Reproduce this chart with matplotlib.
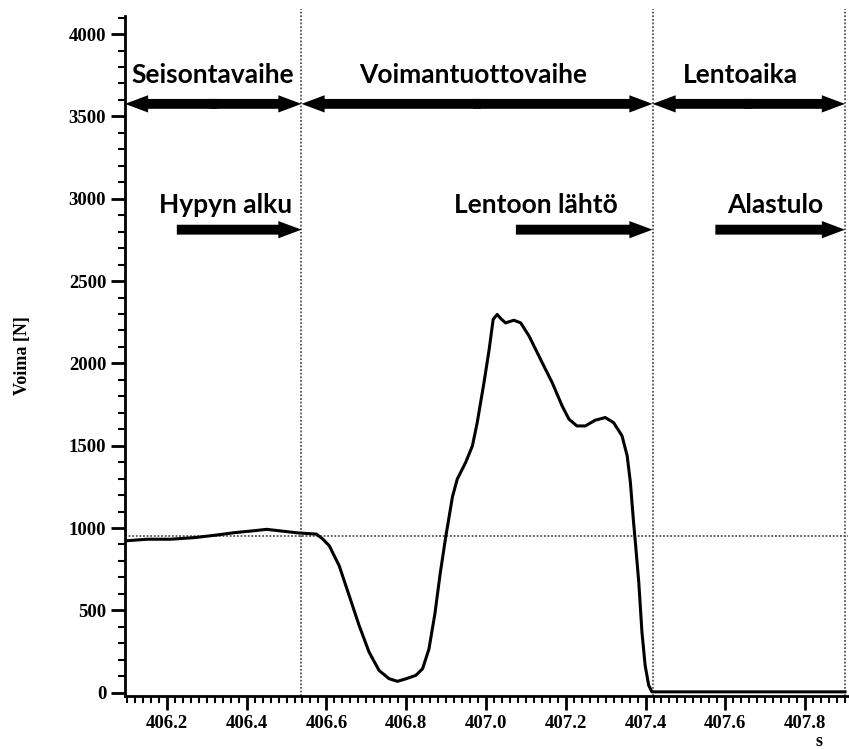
import matplotlib.pyplot as plt
import numpy as np

# force curve (time [s], force [N])
t = [406.095, 406.15, 406.21, 406.27, 406.32, 406.37, 406.42, 406.45, 406.49, 406.53,
     406.575, 406.59, 406.607, 406.632, 406.657, 406.682, 406.707, 406.732, 406.757, 406.778,
     406.799, 406.824, 406.841, 406.857, 406.872, 406.885, 406.899, 406.916, 406.928, 406.949,
     406.966, 406.978, 406.995, 407.008, 407.018, 407.028, 407.038, 407.049, 407.07, 407.087,
     407.108, 407.141, 407.166, 407.191, 407.208, 407.228, 407.249, 407.274, 407.299, 407.32,
     407.341, 407.354, 407.362, 407.37, 407.375, 407.383, 407.391, 407.399, 407.408, 407.416,
     407.45, 407.9]
force = [922, 932, 932, 942, 956, 972, 984, 992, 981, 970,
         963, 935, 893, 771, 590, 408, 246, 135, 85, 69,
         84, 105, 145, 265, 480, 720, 945, 1190, 1297, 1398,
         1499, 1640, 1883, 2085, 2267, 2297, 2270, 2246, 2262, 2246,
         2166, 2004, 1883, 1741, 1661, 1620, 1620, 1655, 1671, 1640,
         1560, 1438, 1277, 1034, 900, 671, 368, 165, 44, 5,
         5, 5]

body_weight = 951
phase_bounds = [406.095, 406.5375, 407.4175, 407.9]
phase_names = ["Seisontavaihe", "Voimantuottovaihe", "Lentoaika"]
phase_label_x = [406.3155, 406.9675, 407.637]
event_names = ["Hypyn alku", "Lentoon lähtö", "Alastulo"]
event_start = [406.225, 407.075, 407.575]
event_label_x = [406.3475, 407.125, 407.725]

fig = plt.figure(figsize=(8.49, 7.49), dpi=100)
ax = fig.add_axes([0.1472, 0.0708, 0.8516, 0.9079])

ax.plot(t, force, color="black", lw=2.2, zorder=3)

# dotted reference lines
ax.axhline(body_weight, color="#555555", ls=(0, (1, 1)), lw=1.3, zorder=2)
for b in phase_bounds[1:]:
    ax.axvline(b, color="#555555", ls=(0, (1, 1)), lw=1.3, zorder=2, ymax=1.01, clip_on=False)

def arrow(x0, x1, y):
    ax.arrow(x0, y, x1 - x0, 0, width=60, head_width=105, head_length=0.058,
             length_includes_head=True, color="black", lw=0, zorder=4)

row1 = 3576
row2 = 2812
lab_font = dict(family="Lato", fontsize=19, fontweight="bold", ha="center", va="center")
for i, name in enumerate(phase_names):
    a, b = phase_bounds[i], phase_bounds[i + 1]
    mid = (a + b) / 2
    # two halves from the middle, overlapping so no seam shows
    arrow(mid + 0.01, a, row1)
    arrow(mid - 0.01, b, row1)
    ax.text(phase_label_x[i], 3750, name, **lab_font)

for i, name in enumerate(event_names):
    arrow(event_start[i], phase_bounds[i + 1], row2)
    ax.text(event_label_x[i], 2964, name, **lab_font)

ax.set_xlim(406.095, 407.9075)
ax.set_ylim(-20, 4110)
ax.set_xticks([406.2, 406.4, 406.6, 406.8, 407.0, 407.2, 407.4, 407.6, 407.8])
ax.set_xticklabels(["406.2", "406.4", "406.6", "406.8", "407.0", "407.2", "407.4", "407.6", "407.8"])
ax.set_xticks(np.arange(406.1, 407.91, 0.02), minor=True)
ax.set_yticks(range(0, 4001, 500))
ax.set_yticks(range(0, 4101, 100), minor=True)

for s in ["top", "right"]:
    ax.spines[s].set_visible(False)
for s in ["left", "bottom"]:
    ax.spines[s].set_linewidth(2)

ax.tick_params(which="major", length=10, width=2, direction="out")
ax.tick_params(which="minor", length=5, width=1.5, direction="out")
for lab in ax.get_xticklabels() + ax.get_yticklabels():
    lab.set_family("Liberation Serif")
    lab.set_fontweight("bold")
    lab.set_fontsize(13.5)

ax.set_ylabel("Voima [N]", family="Liberation Serif", fontweight="bold", fontsize=13)
ax.yaxis.set_label_coords(-0.13, 0.5)
ax.set_xlabel("s", family="Liberation Serif", fontweight="bold", fontsize=13)
ax.xaxis.set_label_coords(0.96, -0.055)

fig.savefig("out.png", dpi=100)
